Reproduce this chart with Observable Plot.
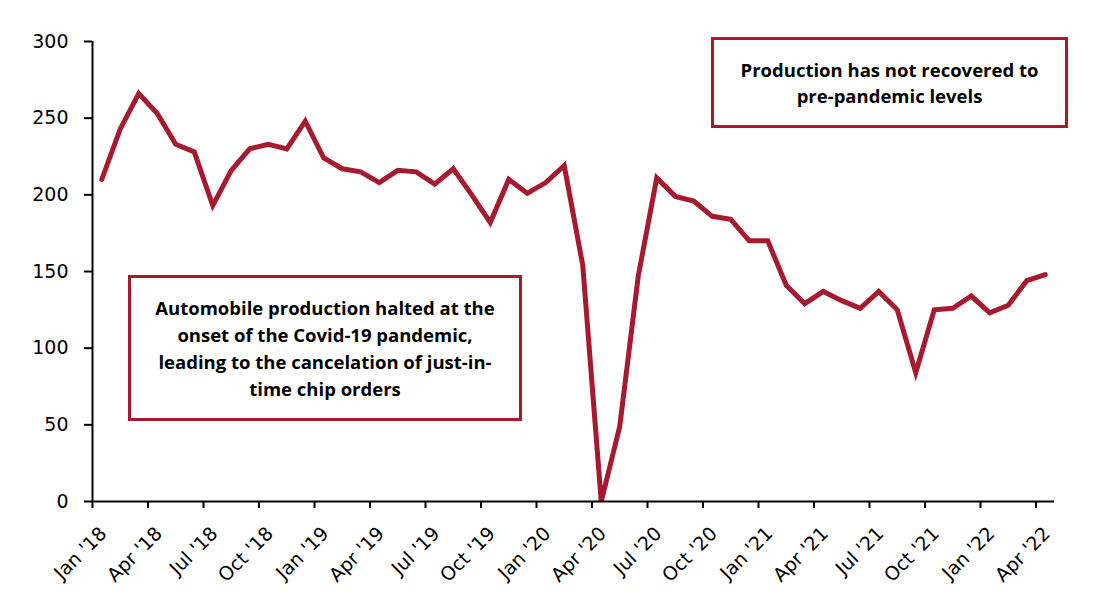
<!DOCTYPE html>
<html>
<head>
<meta charset="utf-8">
<script src="https://cdn.jsdelivr.net/npm/d3@7"></script>
<script src="https://cdn.jsdelivr.net/npm/@observablehq/plot@0.6"></script>
<style>
  html, body { margin: 0; padding: 0; background: #fff; }
  #wrap { position: relative; width: 1104px; height: 614px; font-family: "DejaVu Sans", sans-serif; }
  #wrap svg text { font-family: "DejaVu Sans", sans-serif; font-size: 19px; fill: #000; }
  .note {
    position: absolute; box-sizing: border-box; border: 3px solid #A6192E; background: #fff;
    display: flex; align-items: center; justify-content: center; text-align: center;
    font-family: "Open Sans", sans-serif; font-weight: 700; font-size: 18.5px; color: #000; white-space: nowrap;
  }
</style>
</head>
<body>
<div id="wrap"></div>
<script>
const months = [
  "Jan '18","Feb '18","Mar '18","Apr '18","May '18","Jun '18","Jul '18","Aug '18","Sep '18","Oct '18","Nov '18","Dec '18",
  "Jan '19","Feb '19","Mar '19","Apr '19","May '19","Jun '19","Jul '19","Aug '19","Sep '19","Oct '19","Nov '19","Dec '19",
  "Jan '20","Feb '20","Mar '20","Apr '20","May '20","Jun '20","Jul '20","Aug '20","Sep '20","Oct '20","Nov '20","Dec '20",
  "Jan '21","Feb '21","Mar '21","Apr '21","May '21","Jun '21","Jul '21","Aug '21","Sep '21","Oct '21","Nov '21","Dec '21",
  "Jan '22","Feb '22","Mar '22","Apr '22"
];
const production = [
  210,243,266,253,233,228,193,216,230,233,230,248,
  224,217,215,208,216,215,207,217,200,182,210,201,
  208,219,154,0,49,147,211,199,196,186,184,170,
  170,141,129,137,131,126,137,125,84,125,126,134,
  123,128,144,148
];
const tickLabels = ["Jan '18","Apr '18","Jul '18","Oct '18","Jan '19","Apr '19","Jul '19","Oct '19","Jan '20",
  "Apr '20","Jul '20","Oct '20","Jan '21","Apr '21","Jul '21","Oct '21","Jan '22","Apr '22"];
const yTicks = [0, 50, 100, 150, 200, 250, 300];

const lineColor = "#A6192E";
const data = months.map((m, i) => ({month: m, idx: i, value: production[i]}));
const tickIdx = tickLabels.map(l => months.indexOf(l));

const chart = Plot.plot({
  width: 1104,
  height: 614,
  marginLeft: 92,
  marginRight: 50,
  marginTop: 41,
  marginBottom: 113,
  style: {fontFamily: "'DejaVu Sans', sans-serif", fontSize: "19px", color: "#000", background: "#fff"},
  x: {domain: [0, months.length]},
  y: {domain: [0, 300]},
  marks: [
    Plot.axisY(yTicks, {tickSize: 8, tickPadding: 16, label: null, strokeWidth: 2}),
    Plot.axisX(tickIdx, {tickSize: 7, label: null, strokeWidth: 2, tickFormat: () => ""}),
    Plot.text(tickIdx, {x: d => d, text: d => months[d], frameAnchor: "bottom", rotate: -45,
      textAnchor: "end", lineAnchor: "middle", dx: 11, dy: 29, fill: "#000"}),
    Plot.line(data, {x: d => d.idx + 0.5, y: "value", stroke: lineColor, strokeWidth: 5,
      strokeLinejoin: "miter", strokeMiterlimit: 10, clip: true}),
    Plot.ruleX([0], {y1: 0, y2: 300, stroke: "#000", strokeWidth: 2}),
    Plot.ruleY([0], {x1: 0, x2: months.length, stroke: "#000", strokeWidth: 2})
  ]
});

const wrap = document.getElementById("wrap");
wrap.appendChild(chart);

function note(html, left, top, width, height, lh) {
  const d = document.createElement("div");
  d.className = "note";
  d.style.left = left + "px";
  d.style.top = top + "px";
  d.style.width = width + "px";
  d.style.height = height + "px";
  d.style.lineHeight = lh + "px";
  d.innerHTML = "<div>" + html + "</div>";
  wrap.appendChild(d);
}
note("Automobile production halted at the<br>onset of the Covid-19 pandemic,<br>leading to the cancelation of just-in-<br>time chip orders", 128, 275, 394, 146, 27);
note("Production has not recovered to<br>pre-pandemic levels", 711, 37, 357, 91, 26);
</script>
</body>
</html>
